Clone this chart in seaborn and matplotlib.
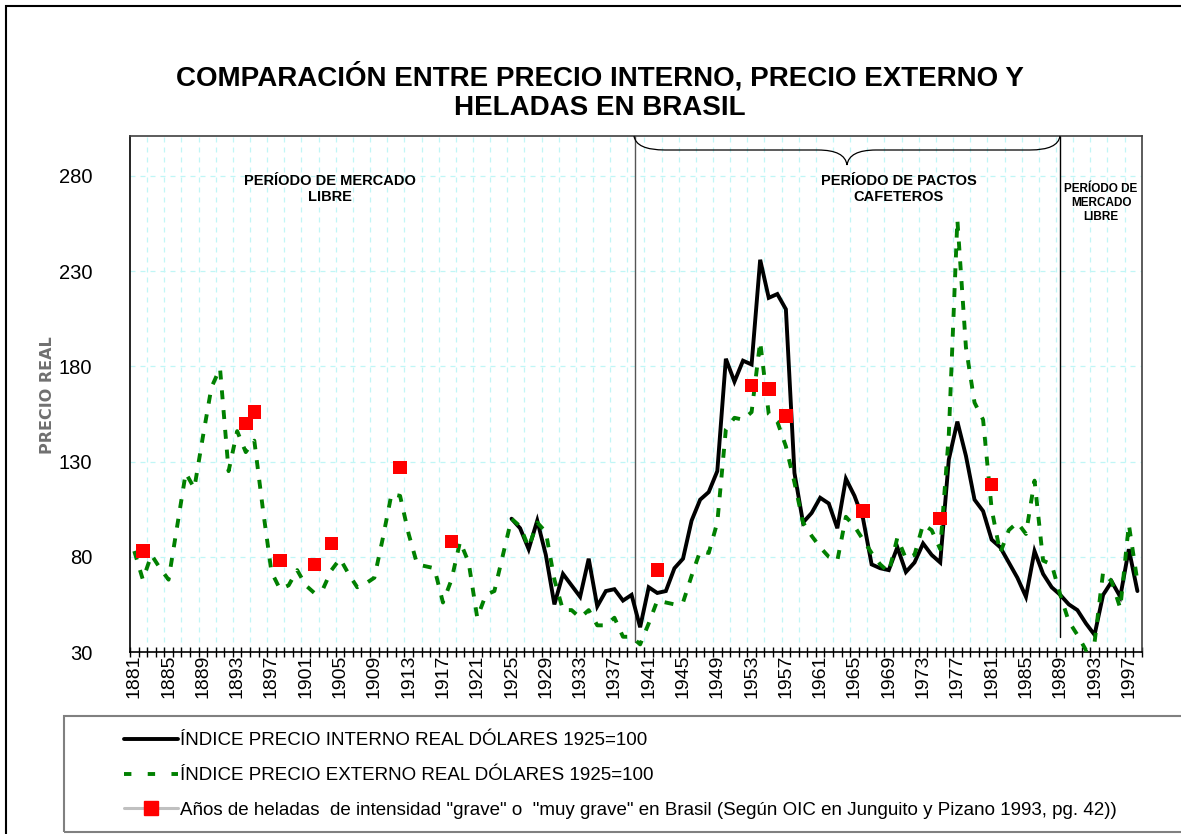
import numpy as np
import matplotlib
matplotlib.use("Agg")
import matplotlib.pyplot as plt
import seaborn as sns
from matplotlib.lines import Line2D
from matplotlib.patches import Rectangle, PathPatch
from matplotlib.path import Path

# --- data ---
years = list(range(1881, 1999))
externo = [83, 68, 81, 74, 68, 96, 124, 116, 143, 169,
           179, 125, 146, 135, 141, 105, 72, 63, 65, 73,
           65, 61, 63, 73, 79, 71, 64, 66, 69, 90,
           113, 112, 92, 76, 75, 74, 56, 68, 88, 77,
           48, 60, 62, 81, 100, 96, 85, 98, 93, 68,
           52, 52, 48, 52, 44, 44, 48, 38, 38, 34,
           45, 57, 56, 55, 56, 70, 83, 82, 98, 147,
           153, 152, 156, 193, 155, 151, 138, 119, 98, 91,
           85, 80, 78, 101, 96, 89, 82, 76, 72, 90,
           79, 81, 97, 94, 84, 144, 257, 190, 161, 152,
           105, 82, 94, 98, 92, 120, 78, 76, 60, 46,
           39, 31, 35, 72, 67, 53, 97, 67]

interno_years = list(range(1925, 1999))
interno = [100, 95, 84, 99, 81, 55, 71, 65, 59, 79,
           54, 62, 63, 57, 60, 43, 64, 61, 62, 74,
           79, 99, 110, 114, 125, 184, 172, 183, 181, 236,
           216, 218, 210, 124, 98, 103, 111, 108, 95, 121,
           112, 100, 76, 74, 73, 85, 72, 77, 87, 81,
           77, 131, 151, 133, 110, 104, 89, 85, 77, 69,
           59, 83, 71, 64, 60, 55, 52, 45, 39, 60,
           67, 59, 84, 62]

helada_years = [1882, 1894, 1895, 1898, 1902, 1904, 1912, 1918,
                1942, 1953, 1955, 1957, 1966, 1975, 1981]
helada_vals = [83, 150, 156, 78, 76, 87, 127, 88,
               73, 170, 168, 154, 104, 100, 118]

tick_years = list(range(1881, 1998, 4))
y_ticks = [30, 80, 130, 180, 230, 280]

lbl_int = "ÍNDICE PRECIO INTERNO REAL DÓLARES 1925=100"
lbl_ext = "ÍNDICE PRECIO EXTERNO REAL DÓLARES 1925=100"
lbl_hel = ('Años de heladas  de intensidad "grave" o  "muy grave" en Brasil '
           '(Según OIC en Junguito y Pizano 1993, pg. 42))')

sns.set_theme(style="white")
plt.rcParams["font.family"] = ["Liberation Sans", "DejaVu Sans"]
plt.rcParams["text.color"] = "black"
plt.rcParams["xtick.color"] = "black"
plt.rcParams["ytick.color"] = "black"

W, H = 1181, 834
fig = plt.figure(figsize=(W / 100, H / 100), dpi=100)


def fx(px):
    return px / W


def fy(py):
    return 1 - py / H


ax = fig.add_axes([fx(130), fy(652), (1141.7 - 130) / W, (652 - 136) / H])

# pale cyan dashed grid
grid_c = "#c0f6f6"
for b in np.arange(1882.5, 1998.5, 2):
    ax.axvline(b, color=grid_c, lw=0.9, ls=(0, (4, 4)), zorder=0)
for v in y_ticks[1:]:
    ax.axhline(v, color=grid_c, lw=0.9, ls=(0, (4, 4)), zorder=0)

sns.lineplot(x=interno_years, y=interno, ax=ax, color="black", lw=2.8, zorder=3)
ax.lines[-1].set_solid_joinstyle("miter")
sns.lineplot(x=years, y=externo, ax=ax, color="#008000", lw=2.8, zorder=4)
ax.lines[-1].set_dashes([2.3, 2.8])
sns.scatterplot(x=helada_years, y=helada_vals, ax=ax, marker="s", s=95,
                color="#ff0000", edgecolor="none", zorder=5)

# period separators
ax.axvline(1939.4, ymin=0.02, ymax=1, color="#555555", lw=1.0, zorder=2)
ax.axvline(1988.95, ymin=0.03, ymax=1, color="black", lw=1.0, zorder=2)

ax.set_xlim(1880.5, 1998.5)
ax.set_ylim(30, 301)
ax.set_xlabel("")
ax.set_ylabel("")
ax.set_xticks(tick_years)
ax.set_xticklabels([str(y) for y in tick_years], rotation=90, fontsize=14)
ax.set_xticks(np.arange(1880.5, 1999, 1), minor=True)
ax.tick_params(axis="x", which="major", length=0, pad=2)
ax.tick_params(axis="x", which="minor", bottom=True, direction="inout",
               length=7, width=1, color="black")
ax.set_yticks(y_ticks)
ax.set_yticklabels([str(v) for v in y_ticks], fontsize=14.5)
ax.tick_params(axis="y", length=0, pad=27)

for side in ["left", "bottom"]:
    ax.spines[side].set_color("black")
    ax.spines[side].set_linewidth(1.2)
for side in ["top", "right"]:
    ax.spines[side].set_color("#404040")
    ax.spines[side].set_linewidth(1.2)

if ax.get_legend() is not None:
    ax.get_legend().remove()

# titles and annotations
fig.text(fx(600), fy(77), "COMPARACIÓN ENTRE PRECIO INTERNO, PRECIO EXTERNO Y",
         ha="center", va="center", fontsize=20, fontweight="bold")
fig.text(fx(600), fy(108), "HELADAS EN BRASIL",
         ha="center", va="center", fontsize=20, fontweight="bold")

fig.text(fx(330), fy(189), "PERÍODO DE MERCADO\nLIBRE", ha="center", va="center",
         fontsize=10.5, fontweight="bold", linespacing=1.1)
fig.text(fx(899), fy(189), "PERÍODO DE PACTOS\nCAFETEROS", ha="center", va="center",
         fontsize=10.5, fontweight="bold", linespacing=1.1)
fig.text(fx(1101), fy(203), "PERÍODO DE\nMERCADO\nLIBRE", ha="center", va="center",
         fontsize=8.5, fontweight="bold", linespacing=1.25)

fig.text(fx(47), fy(395), "PRECIO REAL", rotation=90, ha="center", va="center",
         fontsize=11.5, fontweight="bold", color="#707070", family="DejaVu Sans")

# curly brace over the coffee-pact period
pts = [(634, 136), (636, 150), (665, 150), (818, 150), (845, 150), (847, 165),
       (849, 150), (876, 150), (1030, 150), (1058, 150), (1060, 136)]
codes = [Path.MOVETO, Path.CURVE3, Path.CURVE3, Path.LINETO, Path.CURVE3, Path.CURVE3,
         Path.CURVE3, Path.CURVE3, Path.LINETO, Path.CURVE3, Path.CURVE3]
brace = Path([(fx(x), fy(y)) for x, y in pts], codes)
fig.add_artist(PathPatch(brace, transform=fig.transFigure, fill=False,
                         ec="black", lw=0.9))

# legend
h1 = Line2D([], [], color="black", lw=2.8)
h2 = Line2D([], [], color="#008000", lw=2.8, dashes=[1.9, 4.2])
h3 = Line2D([], [], color="#c0c0c0", lw=2.2, marker="s", markersize=9.5,
            markerfacecolor="#ff0000", markeredgecolor="#ff0000")
fig.legend([h1, h2, h3], [lbl_int, lbl_ext, lbl_hel], loc="upper left",
           bbox_to_anchor=(fx(124), fy(732)), frameon=False, borderpad=0,
           borderaxespad=0, handlelength=2.9, handletextpad=0.1,
           labelspacing=0.95, numpoints=1, prop={"size": 13.5})

fig.add_artist(Rectangle((fx(64), fy(832)), 2, (832 - 716) / H,
                         transform=fig.transFigure, fill=False, ec="#808080", lw=1.5))
fig.add_artist(Rectangle((fx(6), -0.5), 2, 1.5 - 6 / H,
                         transform=fig.transFigure, fill=False, ec="black", lw=1.5))

fig.savefig("out.png", dpi=100)
